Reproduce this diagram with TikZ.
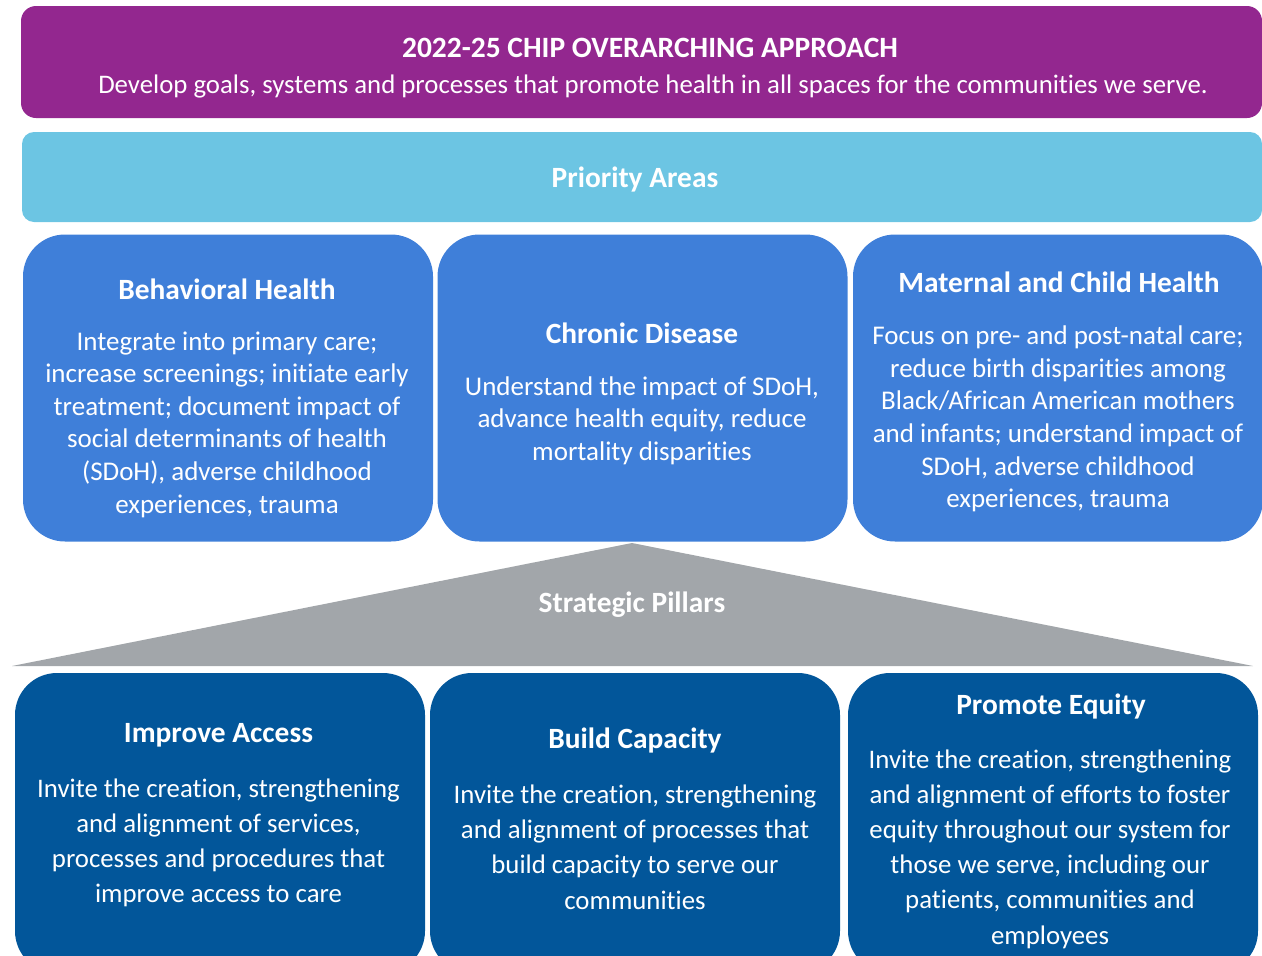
\documentclass[tikz,border=0pt]{standalone}
\usepackage{fontspec}
\setmainfont{Carlito}[Ligatures=NoCommon]
\definecolor{cpurple}{HTML}{93278F}
\definecolor{clight}{HTML}{6CC5E3}
\definecolor{cmid}{HTML}{3F7FD9}
\definecolor{cdark}{HTML}{02569A}
\definecolor{cgrey}{HTML}{A2A6AA}
\tikzset{
  boxbase/.style={inner sep=0pt, outer sep=0pt, draw=none},
  topbox/.style={boxbase, fill=cpurple, rounded corners=15pt, minimum width=1241pt, minimum height=112pt},
  areabox/.style={boxbase, fill=clight, rounded corners=12pt, minimum width=1240pt, minimum height=90pt},
  prbox/.style={boxbase, fill=cmid, rounded corners=42pt, minimum width=410pt, minimum height=307pt},
  plbox/.style={boxbase, fill=cdark, rounded corners=42pt, minimum width=410pt, minimum height=300pt},
  head/.style={inner sep=0pt, text=white, font=\fontsize{29.4}{32}\selectfont\bfseries},
  body/.style={inner sep=0pt, text=white, align=center, font=\fontsize{27}{32.6}\selectfont},
  bodyb/.style={inner sep=0pt, text=white, align=center, font=\fontsize{26.8}{35.2}\selectfont},
}
\begin{document}
\begin{tikzpicture}[x=1pt,y=-1pt]
\useasboundingbox (0,0) rectangle (1262,956);
\begin{scope}
\clip (0,0) rectangle (1262,956);
% top banner
\node[topbox] (top) at (641.5,62) {};
\node[head, font=\fontsize{29.5}{32}\selectfont\bfseries] (title) at (650,48) {2022-25 CHIP OVERARCHING APPROACH};
\node[inner sep=0pt, text=white, font=\fontsize{26.8}{30}\selectfont] (sub) at (653,86) {Develop goals, systems and processes that promote health in all spaces for the communities we serve.};
% priority areas bar
\node[areabox] (area) at (642,177) {};
\node[head] (areat) at (635,179.5) {Priority Areas};
% priority boxes
\node[prbox] (b1) at (228,388) {};
\node[prbox] (b2) at (642.5,388) {};
\node[prbox] (b3) at (1058,388) {};
\node[head] (b1h) at (227,289) {Behavioral Health};
\node[body] (b1t) at (227,424.5) {Integrate into primary care;\\increase screenings; initiate early\\treatment; document impact of\\social determinants of health\\(SDoH), adverse childhood\\experiences, trauma};
\node[head] (b2h) at (642,333) {Chronic Disease};
\node[body] (b2t) at (642,420.5) {Understand the impact of SDoH,\\advance health equity, reduce\\mortality disparities};
\node[head] (b3h) at (1059,282) {Maternal and Child Health};
\node[body] (b3t) at (1058,419) {Focus on pre- and post-natal care;\\reduce birth disparities among\\Black/African American mothers\\and infants; understand impact of\\SDoH, adverse childhood\\experiences, trauma};
% strategic pillars triangle
\coordinate (apex) at (632,543);
\coordinate (bl) at (12,666);
\coordinate (br) at (1253,666);
\fill[cgrey] (apex) -- (br) -- (bl) -- cycle;
\node[head] (sp) at (632,604.5) {Strategic Pillars};
% pillar boxes
\node[plbox] (p1) at (220,823) {};
\node[plbox] (p2) at (635,823) {};
\node[plbox] (p3) at (1053,823) {};
\node[head] (p1h) at (218.5,735.5) {Improve Access};
\node[bodyb] (p1t) at (218.5,843) {Invite the creation, strengthening\\and alignment of services,\\processes and procedures that\\improve access to care};
\node[head] (p2h) at (635,740) {Build Capacity};
\node[bodyb] (p2t) at (635,847) {Invite the creation, strengthening\\and alignment of processes that\\build capacity to serve our\\communities};
\node[head] (p3h) at (1051,706) {Promote Equity};
\node[bodyb] (p3t) at (1050,849) {Invite the creation, strengthening\\and alignment of efforts to foster\\equity throughout our system for\\those we serve, including our\\patients, communities and\\employees};
\end{scope}
\end{tikzpicture}
\end{document}
